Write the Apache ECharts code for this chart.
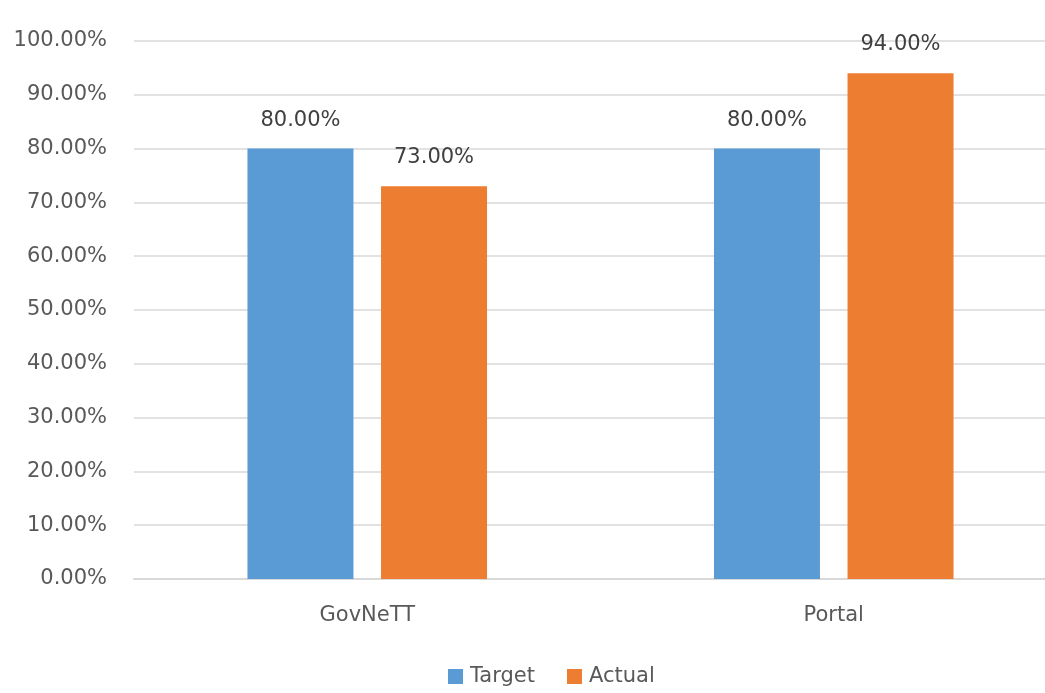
<!DOCTYPE html>
<html>
<head>
<meta charset="utf-8">
<script src="https://cdn.jsdelivr.net/npm/echarts@6/dist/echarts.min.js"></script>
<style>
  html, body { margin: 0; padding: 0; background: #fff; overflow: hidden; }
  /* the reference is cropped on the right, so the chart is a bit wider than the window */
  #main { width: 1067px; height: 693px; }
</style>
</head>
<body>
<div id="main"></div>
<script>
const categories = ['GovNeTT', 'Portal'];
const targetValues = [80, 80];
const actualValues = [73, 94];
const yTicks = [0, 10, 20, 30, 40, 50, 60, 70, 80, 90, 100];

const font = "'DejaVu Sans', 'Open Sans', sans-serif";
const pct = v => v.toFixed(2) + '%';

const chart = echarts.init(document.getElementById('main'));
chart.setOption({
  animation: false,
  textStyle: { fontFamily: font },
  grid: { left: 134, right: 0, top: 41, bottom: 114, containLabel: false },
  legend: {
    left: 443, bottom: 1,
    itemWidth: 15, itemHeight: 15, itemGap: 32,
    icon: 'rect',
    textStyle: { fontSize: 21, color: '#595959', fontFamily: font, padding: [0, 0, 0, 2] },
    data: ['Target', 'Actual']
  },
  xAxis: {
    type: 'category',
    data: categories,
    axisLine: { lineStyle: { color: '#d9d9d9', width: 2 } },
    axisTick: { show: false },
    axisLabel: { fontSize: 21, color: '#595959', margin: 26 }
  },
  yAxis: {
    type: 'value',
    min: yTicks[0], max: yTicks[yTicks.length - 1], interval: 10,
    axisLine: { show: false },
    axisTick: { show: false },
    splitLine: { lineStyle: { color: '#d9d9d9', width: 1.5 } },
    axisLabel: { fontSize: 21, color: '#595959', margin: 27, formatter: v => pct(v) }
  },
  series: [
    {
      name: 'Target', type: 'bar', data: targetValues,
      barWidth: 106, barGap: '26%',
      itemStyle: { color: '#5b9bd5' },
      label: { show: true, position: 'top', distance: 18, fontSize: 21, color: '#404040', formatter: p => pct(p.value) }
    },
    {
      name: 'Actual', type: 'bar', data: actualValues,
      barWidth: 106,
      itemStyle: { color: '#ed7d31' },
      label: { show: true, position: 'top', distance: 18, fontSize: 21, color: '#404040', formatter: p => pct(p.value) }
    }
  ]
});
</script>
</body>
</html>
